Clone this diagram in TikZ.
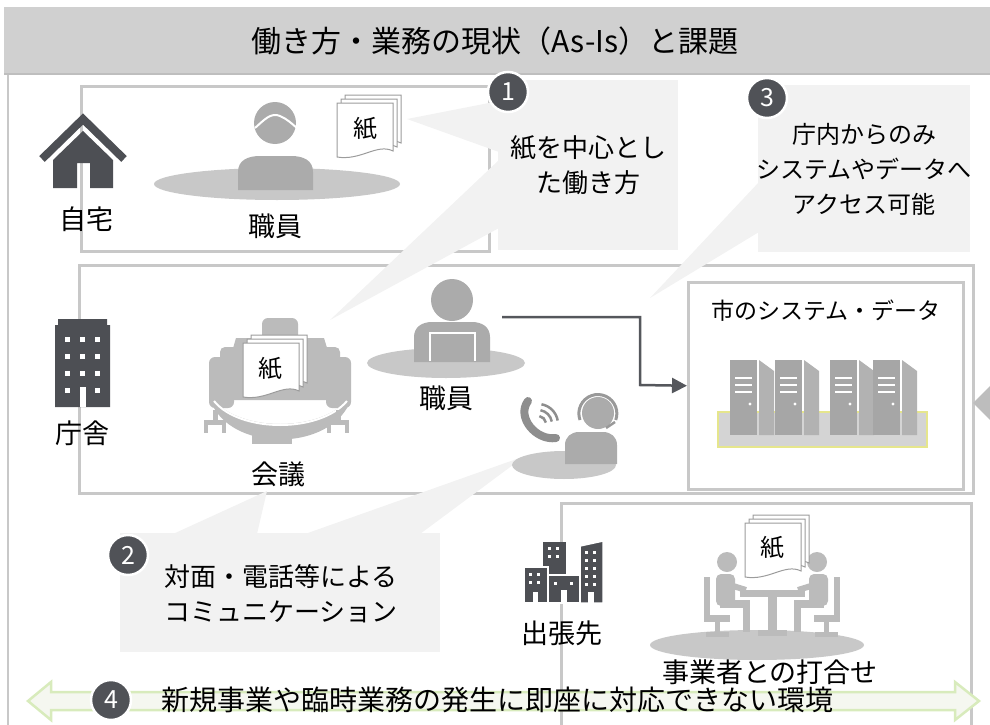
\documentclass[tikz,border=0pt]{standalone}
\usepackage{fontspec}
\setmainfont{Noto Sans CJK JP}
\usetikzlibrary{arrows.meta,calc}

\definecolor{titlegray}{HTML}{D0D0D0}
\definecolor{titleline}{HTML}{BEBEBE}
\definecolor{framegray}{HTML}{C8C8C8}
\definecolor{callgray}{HTML}{F2F2F2}
\definecolor{numgray}{HTML}{505257}
\definecolor{icondark}{HTML}{4D4F54}
\definecolor{iconlight}{HTML}{BBBBBB}
\definecolor{persongray}{HTML}{ABABAB}
\definecolor{headsetgray}{HTML}{999999}
\definecolor{floorgray}{HTML}{C8C8C8}
\definecolor{papergray}{HTML}{9C9C9C}
\definecolor{servergray}{HTML}{A6A6A6}
\definecolor{serverside}{HTML}{B2B2B2}
\definecolor{platgray}{HTML}{D4D4D4}
\definecolor{platyellow}{HTML}{E6E68C}
\definecolor{arrowgreen}{HTML}{D8EBBC}
\definecolor{arrowfill}{HTML}{F5F7F0}
\definecolor{linkgray}{HTML}{55575C}
\definecolor{tipgray}{HTML}{BDBDBD}
\definecolor{phonegray}{HTML}{8E8E8E}

\newcommand{\fs}[1]{\fontsize{#1}{#1}\selectfont}

% stack of three sheets, front sheet's top-left corner at (#1,#2)
\newcommand{\sheetstack}[2]{%
  \begin{scope}[shift={(#1,#2)}]
    \foreach \k in {8,4,0}{
      \filldraw[fill=white, draw=papergray, line width=1pt]
        (\k,-\k) -- (\k+56,-\k) -- (\k+56,48-\k)
        .. controls (\k+40,40-\k) and (\k+24,58-\k) .. (\k,54-\k) -- cycle;
    }
  \end{scope}}

% one server tower, left edge of its front face at x=#1
\newcommand{\servertower}[1]{%
  \begin{scope}[shift={(#1,0)}]
    \fill[servergray] (0,360) rectangle (27,435);
    \fill[serverside] (29,360) -- (44,371) -- (44,435) -- (29,435) -- cycle;
    \foreach \yy in {378,385,392}{\draw[white, line width=1.6pt] (5,\yy) -- (22,\yy);}
    \fill[white] (20,404) circle[radius=1.7];
  \end{scope}}

% seated person with chair (left side), mirrored for the right side
\newcommand{\seatedperson}{%
  \fill[iconlight] (-45,562) circle[radius=10];
  \fill[iconlight, rounded corners=5pt] (-56,574) rectangle (-37,606);
  \draw[iconlight, line width=6pt] (-42,585) -- (-26,590);
  \fill[iconlight] (-52,600) rectangle (-22,608);
  \fill[iconlight] (-29,604) rectangle (-22,632);
  \fill[iconlight] (-68,577) rectangle (-62,622);
  \fill[iconlight] (-68,615) rectangle (-42,622);
  \fill[iconlight] (-57,622) rectangle (-52,634);
  \fill[iconlight] (-66,632) rectangle (-43,637);}

\tikzset{
  areabox/.style={draw=framegray, line width=2.5pt, inner sep=0pt, anchor=north west},
  callout/.style={fill=callgray, draw=none},
  numdot/.style={circle, fill=numgray, draw=white, line width=2.5pt, text=white,
    minimum size=40pt, inner sep=0pt, font=\fs{25}},
  lbl/.style={inner sep=0pt, font=\fs{27}},
  calltext/.style={inner sep=0pt, align=center, font=\fs{26}},
  person/.style={fill=persongray},
  floor/.style={fill=floorgray},
  link/.style={draw=linkgray, line width=2.5pt, -{Triangle[length=15pt,width=15pt]}},
}

\begin{document}
\begin{tikzpicture}[x=1pt, y=-1pt]
\path[use as bounding box] (0,0) rectangle (990,725);
\clip (0,0) rectangle (990,725);

% ---------- title bar and outer frame ----------
\fill[titlegray] (4,7) rectangle (995,74);
\draw[framegray, line width=2.5pt] (8,74) -- (8,740);
\draw[titleline, line width=2pt] (4,74) -- (995,74);
\node[inner sep=0pt, font=\fs{30}] (title) at (495,41) {働き方・業務の現状（As-Is）と課題};

% ---------- location areas ----------
\node[areabox, minimum width=408pt, minimum height=165pt] (home) at (80,85) {};
\node[areabox, minimum width=894pt, minimum height=228pt] (office) at (78,264) {};
\node[areabox, minimum width=275pt, minimum height=207pt] (sys) at (687,281) {};
\node[areabox, minimum width=410pt, minimum height=260pt] (trip) at (560,502) {};

% ---------- callout 1 ----------
\fill[callgray] (499,101) -- (407,119) -- (499,152) -- cycle;
\fill[callgray] (499,160) -- (330,320) -- (499,228) -- cycle;
\node[callout, anchor=north west, minimum width=180pt, minimum height=170pt] (c1) at (498,80) {};
\node[calltext] (c1text) at (588,165) {紙を中心とし\\[9pt]た働き方};

% ---------- callout 3 ----------
\fill[callgray] (759,182) -- (650,298) -- (759,232) -- cycle;
\node[callout, anchor=north west, minimum width=212pt, minimum height=167pt] (c3) at (758,85) {};
\node[calltext, font=\fs{24}] (c3text) at (864,169) {庁内からのみ\\[11pt]システムやデータへ\\[11pt]アクセス可能};

% ---------- callout 2 ----------
\fill[callgray] (173,534) -- (267,491) -- (257,534) -- cycle;
\fill[callgray] (305,534) -- (525,456) -- (420,534) -- cycle;
\node[callout, anchor=north west, minimum width=320pt, minimum height=119pt] (c2) at (120,533) {};
\node[calltext] (c2text) at (281,594) {対面・電話等による\\[9pt]コミュニケーション};

% ---------- home: house icon ----------
\fill[icondark] (53,188) -- (53,160) -- (83,131) -- (113,160) -- (113,188) -- (90,188)
  -- (90,163) -- (77,163) -- (77,188) -- cycle;
\draw[icondark, line width=8pt] (42,159) -- (83,119) -- (124,159);
\node[lbl] (homelbl) at (86,219) {自宅};

% ---------- home: staff member ----------
\fill[floor] (277,184) ellipse[x radius=123, y radius=16];
\fill[person] (238,190) -- (238,172) .. controls (238,160) and (248,156) .. (260,156)
  -- (291,156) .. controls (303,156) and (313,160) .. (313,172) -- (313,190) -- cycle;
\fill[person] (275,123) circle[radius=21];
\draw[white, line width=2pt] (255,128) .. controls (264,120) and (271,112) .. (280,116)
  .. controls (287,119) and (291,123) .. (297,128);
\sheetstack{337}{103}
\node[inner sep=0pt, font=\fs{24}] (paper1) at (365,129) {紙};
\node[lbl] (staff1) at (275,226) {職員};

% ---------- office building icon ----------
\fill[icondark] (55,407) -- (55,325) -- (58,325) -- (58,319) -- (107,319) -- (107,325)
  -- (110,325) -- (110,407) -- cycle;
\foreach \xx in {65,80,95}{
  \foreach \yy in {337,354,371}{\fill[white] (\xx,\yy) rectangle ++(5,5);}}
\fill[white] (65,388) rectangle ++(5,5);
\fill[white] (95,388) rectangle ++(5,5);
\fill[white] (80,387) rectangle (86,407);
\node[lbl] (officelbl) at (82,433) {庁舎};

% ---------- meeting room icon ----------
\fill[iconlight] (236,338) -- (324,338) -- (343,400) -- (218,400) -- cycle;
\fill[iconlight, rounded corners=6pt] (262,318) rectangle (298,344);
\fill[iconlight, rounded corners=6pt] (209,357) rectangle (234,408);
\fill[iconlight, rounded corners=5pt] (220,347) rectangle (247,367);
\fill[iconlight, rounded corners=6pt] (326,357) rectangle (351,408);
\fill[iconlight, rounded corners=5pt] (313,347) rectangle (340,367);
\fill[iconlight] (214,400) .. controls (240,432) and (320,432) .. (347,400)
  -- (347,408) .. controls (322,450) and (238,450) .. (214,408) -- cycle;
\draw[white, line width=2pt] (214,401) .. controls (240,433) and (320,433) .. (347,401);
\fill[iconlight] (252,430) rectangle (292,444);
\foreach \cx in {215,338}{
  \fill[iconlight] (\cx-2,410) rectangle (\cx+3,423);
  \fill[iconlight] (\cx-11,420) rectangle (\cx+11,425);
  \fill[iconlight] (\cx-11,425) rectangle (\cx-7,433);
  \fill[iconlight] (\cx+7,425) rectangle (\cx+11,433);}
\sheetstack{243}{343}
\node[inner sep=0pt, font=\fs{24}] (paper2) at (270,369) {紙};
\node[lbl] (meetlbl) at (278,474) {会議};

% ---------- office staff with laptop ----------
\fill[floor] (446,363) ellipse[x radius=79, y radius=15];
\fill[person] (414,362) -- (414,337) .. controls (414,327) and (422,322) .. (432,322)
  -- (472,322) .. controls (482,322) and (490,327) .. (490,337) -- (490,362) -- cycle;
\fill[person] (452,300) circle[radius=21];
\draw[white, line width=2pt] (430,361) -- (430,333) -- (475,333) -- (475,361);
\node[lbl] (staff2) at (446,398) {職員};
\coordinate (staffout) at (502,317);

% ---------- phone operator ----------
\fill[floor] (564,465) ellipse[x radius=52, y radius=14];
\fill[person] (565,464) -- (565,445) .. controls (565,437) and (571,432) .. (579,432)
  -- (603,432) .. controls (611,432) and (617,437) .. (617,445) -- (617,464) -- cycle;
\fill[person] (598,413) circle[radius=16];
\draw[headsetgray, line width=3pt] (580,420) arc[start angle=160, end angle=380, radius=19];
\draw[headsetgray, line width=2.5pt] (615,422) -- (606,428);
\draw[phonegray, line width=8pt, line cap=round] (528,401) .. controls (516,417) and (536,441) .. (556,438);
\foreach \rr in {8,14,20}{
  \draw[phonegray, line width=2.5pt] ($(538,424)+(-10:\rr)$) arc[start angle=-10, end angle=-80, radius=\rr];}

% ---------- city systems and data ----------
\node[inner sep=0pt, font=\fs{23}] (syslbl) at (826,311) {市のシステム・データ};
\filldraw[fill=platgray, draw=platyellow, line width=1.5pt] (718,412) rectangle (927,447);
\servertower{730}
\servertower{775}
\servertower{830}
\servertower{873}
\coordinate (bend) at (640,385);
\draw[link] (staffout) -| (bend) -- (sys.west);

% pointer at the right edge
\fill[tipgray] (973,403) -- (992,384) -- (992,422) -- cycle;

% ---------- business trip: buildings icon ----------
\fill[icondark] (543,542) rectangle (566,574);
\filldraw[icondark, draw=white, line width=1.5pt] (524,567) rectangle (548,603);
\filldraw[icondark, draw=white, line width=1.5pt] (548,575) rectangle (580,603);
\filldraw[icondark, draw=white, line width=1.5pt] (580,603) -- (580,546) -- (603,541) -- (603,603) -- cycle;
\foreach \xx in {548,556}{\foreach \yy in {547,555}{\fill[white] (\xx,\yy) rectangle ++(3,3);}}
\foreach \xx in {529,537}{\foreach \yy in {573,581}{\fill[white] (\xx,\yy) rectangle ++(3,3);}}
\fill[white] (533,592) rectangle (538,603);
\foreach \xx in {554,570}{\fill[white] (\xx,582) rectangle ++(3,3);}
\fill[white] (561,590) rectangle (567,603);
\foreach \xx in {585,593}{\foreach \yy in {551,559,567,575,583}{\fill[white] (\xx,\yy) rectangle ++(3,3);}}
\fill[white] (588,592) rectangle (594,603);
\node[lbl] (triplbl) at (562,633) {出張先};

% ---------- meeting with a contractor ----------
\fill[floor] (757,645) ellipse[x radius=107, y radius=15];
\begin{scope}[shift={(772,0)}]
  \seatedperson
\end{scope}
\begin{scope}[shift={(772,0)}, xscale=-1]
  \seatedperson
\end{scope}
\fill[iconlight] (740,590) rectangle (805,597);
\fill[iconlight] (768,597) rectangle (777,632);
\fill[iconlight] (758,630) rectangle (787,636);
\sheetstack{745}{523}
\node[inner sep=0pt, font=\fs{24}] (paper3) at (772,548) {紙};
\node[lbl] (contractlbl) at (770,672) {事業者との打合せ};

% ---------- issue 4: double-headed band ----------
\filldraw[fill=arrowfill, draw=arrowgreen, line width=2.5pt]
  (28,701) -- (51,682) -- (51,692) -- (955,692) -- (955,682) -- (979,701)
  -- (955,720) -- (955,710) -- (51,710) -- (51,720) -- cycle;
\node[inner sep=0pt, font=\fs{28}, anchor=west] (issue4) at (161,700) {新規事業や臨時業務の発生に即座に対応できない環境};

% ---------- numbered markers ----------
\node[numdot] (n1) at (508,92) {1};
\node[numdot] (n3) at (767,98) {3};
\node[numdot] (n2) at (128,555) {2};
\node[numdot] (n4) at (111,700) {4};

\end{tikzpicture}
\end{document}
